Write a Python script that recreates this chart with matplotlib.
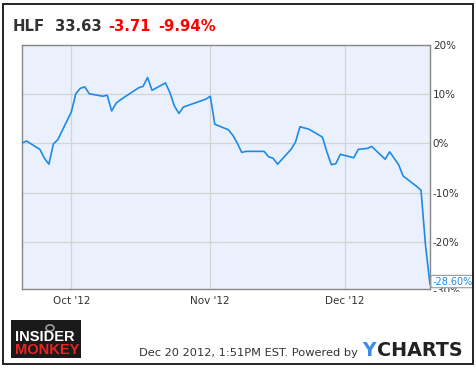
import matplotlib
matplotlib.use("Agg")
import matplotlib.pyplot as plt
import matplotlib.dates as mdates
from matplotlib.patches import Rectangle, Circle
from matplotlib.ticker import FuncFormatter
import numpy as np

# HLF % change since Sep 20 2012 (trading days, markets shut Oct 29-30 and Nov 22)
dates = ['2012-09-20', '2012-09-21', '2012-09-24', '2012-09-25', '2012-09-26', '2012-09-27', '2012-09-28',
         '2012-10-01', '2012-10-02', '2012-10-03', '2012-10-04', '2012-10-05',
         '2012-10-08', '2012-10-09', '2012-10-10', '2012-10-11', '2012-10-12',
         '2012-10-15', '2012-10-16', '2012-10-17', '2012-10-18', '2012-10-19',
         '2012-10-22', '2012-10-23', '2012-10-24', '2012-10-25', '2012-10-26', '2012-10-31',
         '2012-11-01', '2012-11-02', '2012-11-05', '2012-11-06', '2012-11-07', '2012-11-08', '2012-11-09',
         '2012-11-12', '2012-11-13', '2012-11-14', '2012-11-15', '2012-11-16',
         '2012-11-19', '2012-11-20', '2012-11-21', '2012-11-23',
         '2012-11-26', '2012-11-27', '2012-11-28', '2012-11-29', '2012-11-30',
         '2012-12-03', '2012-12-04', '2012-12-05', '2012-12-06', '2012-12-07',
         '2012-12-10', '2012-12-11', '2012-12-12', '2012-12-13', '2012-12-14',
         '2012-12-17', '2012-12-18', '2012-12-19', '2012-12-20']
pct = [0.1, 0.5, -1.2, -3.0, -4.2, -0.1, 0.8,
       6.4, 10.1, 11.2, 11.5, 10.1,
       9.6, 9.8, 6.6, 8.2, 8.9,
       10.7, 11.3, 11.6, 13.4, 10.8,
       12.3, 10.3, 7.6, 6.1, 7.4, 9.0,
       9.6, 3.9, 2.8, 1.7, 0.1, -1.8, -1.6,
       -1.6, -1.6, -2.7, -3.0, -4.2,
       -1.2, 0.3, 3.4, 2.9,
       1.3, -1.7, -4.3, -4.1, -2.2,
       -2.9, -1.2, -1.1, -1.0, -0.6,
       -3.2, -1.7, -3.0, -4.3, -6.6,
       -8.7, -9.5, -20.7, -28.6]
yticks = [-20, -10, 0, 10, 20]

x = np.array(dates, dtype='datetime64[D]')

fig = plt.figure(figsize=(4.76, 3.68), dpi=100)
fig.patch.set_facecolor('white')
fig.patches.append(Rectangle((3 / 476, 4 / 368), 470 / 476, 360 / 368, transform=fig.transFigure,
                             fill=False, ec='#222222', lw=1.4))

ax = fig.add_axes([22 / 476, 79 / 368, 408 / 476, 244 / 368])
ax.set_facecolor('#eaf1fc')
ax.plot(x, pct, color='#1f8ae6', lw=1.2, zorder=3)

ax.set_xlim(np.datetime64('2012-09-20'), np.datetime64('2012-12-20'))
ax.set_ylim(-29.55, 20)
ax.set_yticks(yticks)
ax.yaxis.tick_right()
ax.yaxis.set_major_formatter(FuncFormatter(lambda v, p: '%d%%' % v))
ax.xaxis.set_major_locator(mdates.MonthLocator(bymonth=[10, 11, 12]))
ax.xaxis.set_major_formatter(mdates.DateFormatter("%b '%y"))
ax.tick_params(axis='both', length=0, labelsize=7.5, labelcolor='#333333')
ax.tick_params(axis='y', pad=2)
ax.tick_params(axis='x', pad=5)
ax.grid(True, color='#d4d4d4', lw=0.9)
ax.set_axisbelow(True)
for s in ax.spines.values():
    s.set_color('#888888')
    s.set_linewidth(1.0)

# -30% label, half hidden under the plot frame
lab = ax.text(1.0, -30, ' -30%', transform=ax.get_yaxis_transform(), ha='left', va='center',
              fontsize=7.5, color='#333333', clip_on=True)
lab.set_clip_path(Rectangle((0.9, 76 / 368), 0.1, 0.8, transform=fig.transFigure))

# last value tag
ax.annotate('-28.60%', xy=(1.0, pct[-1]), xycoords=('axes fraction', 'data'),
            xytext=(1.5, 2), textcoords='offset points', ha='left', va='center',
            fontsize=7, color='#1f8ae6', annotation_clip=False,
            bbox=dict(boxstyle='round,pad=0.12,rounding_size=0.15', fc='white', ec='#999999', lw=0.8))

# header
ty = 1 - 30.7 / 368
fig.text(13 / 476, ty, 'HLF', fontsize=10.7, fontweight='bold', color='#333333', va='baseline')
fig.text(55 / 476, ty, '33.63', fontsize=10.7, fontweight='bold', color='#333333', va='baseline')
fig.text(108 / 476, ty, '-3.71', fontsize=10.7, fontweight='bold', color='#ff0000', va='baseline')
fig.text(158 / 476, ty, '-9.94%', fontsize=10.7, fontweight='bold', color='#ff0000', va='baseline')

# footer
fy = 12 / 368
fig.text(139 / 476, fy, 'Dec 20 2012, 1:51PM EST. Powered by', fontsize=8.2, color='#333333', va='baseline')
fig.text(362 / 476, fy, 'Y', fontsize=13.5, fontweight='bold', color='#3d8be8', va='baseline')
fig.text(377 / 476, fy, 'CHARTS', fontsize=13.8, fontweight='bold', color='#222222', va='baseline')

# insider monkey badge
fig.patches.append(Rectangle((11 / 476, 10 / 368), 70 / 476, 38 / 368, transform=fig.transFigure,
                             fc='#1a1a1a', ec='none'))
fig.patches.append(Circle((50 / 476, 1 - 328 / 368), 4 / 476, transform=fig.transFigure,
                          fill=False, ec='#9a9a9a', lw=1.2))
fig.text(15 / 476, 1 - 337 / 368, 'INSIDER', fontsize=10.5, fontweight='bold', color='white',
         va='center', family='Liberation Sans')
fig.text(15 / 476, 1 - 349.5 / 368, 'MONKEY', fontsize=10.5, fontweight='bold', color='#ee2222',
         va='center', family='Liberation Sans')

fig.savefig('out.png', dpi=100, facecolor='white')
